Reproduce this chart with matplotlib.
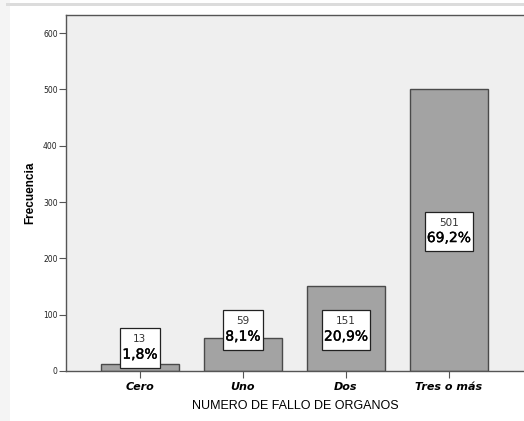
import matplotlib
matplotlib.use("Agg")
import matplotlib.pyplot as plt
import matplotlib.patheffects as pe
from matplotlib.patches import Rectangle
from matplotlib.offsetbox import TextArea, VPacker, DrawingArea, AnnotationBbox

# data
categories = ["Cero", "Uno", "Dos", "Tres o más"]
counts = [13, 59, 151, 501]
percents = ["1,8%", "8,1%", "20,9%", "69,2%"]
y_ticks = [0, 100, 200, 300, 400, 500, 600]

# where SPSS put the label boxes (box centres, data units)
label_y = [41, 73, 73, 248]

fig = plt.figure(figsize=(5.24, 4.21), dpi=100)
fig.patch.set_facecolor("white")
# the screenshot frame: grey strip on top, pale strip on the left
fig.patches.append(Rectangle((0, 0), 10 / 524, 1, transform=fig.transFigure,
                             facecolor="#f4f4f4", edgecolor="none", zorder=0))
fig.patches.append(Rectangle((6 / 524, 415 / 421), 1, 3 / 421, transform=fig.transFigure,
                             facecolor="#dcdcdc", edgecolor="none", zorder=0))

ax = fig.add_axes([66 / 524, 50 / 421, 1 - 66 / 524, 356 / 421])
ax.set_facecolor("#efefef")

x = range(len(categories))
ax.bar(x, counts, width=0.757, color="#a3a3a3", edgecolor="#4a4a4a", linewidth=1, zorder=2)

for xi, c, p, ly in zip(x, counts, percents, label_y):
    top = TextArea(str(c), textprops=dict(fontsize=7.5, color="#333333"))
    bot = TextArea(p, textprops=dict(fontsize=10, color="black",
                                     path_effects=[pe.withStroke(linewidth=0.25,
                                                                 foreground="black")]))
    box = VPacker(children=[DrawingArea(1, 0.3), top, bot, DrawingArea(1, 0.3)],
                  align="center", pad=0, sep=2.5)
    ab = AnnotationBbox(box, (xi, ly), frameon=True, pad=0.15, zorder=3,
                        bboxprops=dict(facecolor="white", edgecolor="#222222", linewidth=0.9,
                                       boxstyle="square,pad=0.15"))
    ax.add_artist(ab)

ax.set_xlim(-0.718, 3.73)
ax.set_ylim(0, 632)
ax.set_yticks(y_ticks)
ax.set_yticklabels([str(v) for v in y_ticks], fontsize=5.5, color="#222222")
ax.set_xticks(list(x))
ax.set_xticklabels(categories, fontsize=8, fontweight="bold", fontstyle="italic")

for s in ["left", "bottom", "top"]:
    ax.spines[s].set_color("#555555")
    ax.spines[s].set_linewidth(1)
ax.spines["right"].set_visible(False)
ax.tick_params(axis="y", length=5, width=0.8, color="#555555", pad=1)
ax.tick_params(axis="x", length=5, width=0.8, color="#555555", pad=3)

ax.set_xlabel("NUMERO DE FALLO DE ORGANOS", fontsize=9, family="Liberation Sans",
              labelpad=6)
ax.set_ylabel("Frecuencia", fontsize=8.5, fontweight="bold", family="Liberation Sans",
              labelpad=5)

fig.savefig("out.png", dpi=100)
